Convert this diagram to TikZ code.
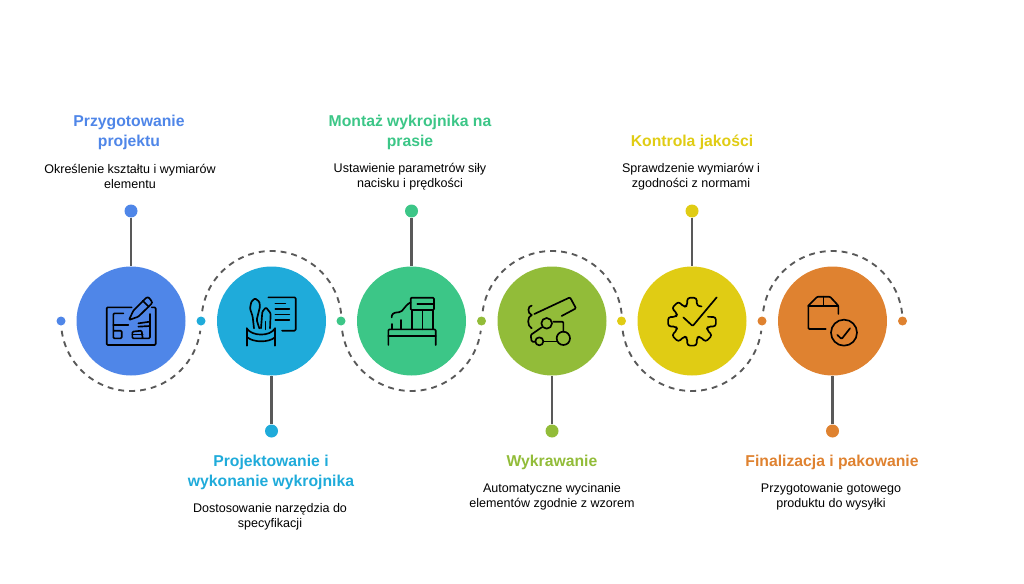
\documentclass[tikz,border=0pt]{standalone}
\usepackage{fontspec}
\setmainfont{Liberation Sans}
\definecolor{stepblue}{HTML}{4F86E8}
\definecolor{stepcyan}{HTML}{1FABDA}
\definecolor{stepgreen}{HTML}{3CC687}
\definecolor{stepolive}{HTML}{92BC39}
\definecolor{stepyellow}{HTML}{E0CC14}
\definecolor{steporange}{HTML}{DF8230}
\definecolor{linegray}{HTML}{595959}
\tikzset{
	disc/.style={circle,fill=#1,inner sep=0pt,minimum size=81.75pt},
	bigdot/.style={circle,fill=#1,inner sep=0pt,minimum size=9.75pt},
	smalldot/.style={circle,fill=#1,inner sep=0pt,minimum size=6.75pt},
	stem/.style={linegray,line width=1.9pt},
	swing/.style={linegray,line width=1.4pt,dash pattern=on 4.4pt off 3.8pt},
	heading/.style={align=center,text=#1,font=\fontsize{11.8pt}{15pt}\selectfont\bfseries},
	desc/.style={align=center,font=\fontsize{9.4pt}{11.6pt}\selectfont},
	icon/.style={black,line width=1.25pt,line cap=round,line join=round,rounded corners=0.8pt},
	zoomed/.style={x=0.25pt,y=-0.25pt}
}
\begin{document}
\begin{tikzpicture}[x=0.75pt,y=0.75pt]
	\useasboundingbox (0,0) rectangle (1024,583);
	%main row
	\node (c1) at (131,262) [disc=stepblue]{};
	\node (c2) at (271.5,262) [disc=stepcyan]{};
	\node (c3) at (411.5,262) [disc=stepgreen]{};
	\node (c4) at (552,262) [disc=stepolive]{};
	\node (c5) at (692,262) [disc=stepyellow]{};
	\node (c6) at (832.5,262) [disc=steporange]{};
	
	%dots on the row
	\node (d0) at (61,262) [smalldot=stepblue]{};
	\node (d1) at (201,262) [smalldot=stepcyan]{};
	\node (d2) at (341,262) [smalldot=stepgreen]{};
	\node (d3) at (481.5,262) [smalldot=stepolive]{};
	\node (d4) at (621.5,262) [smalldot=stepyellow]{};
	\node (d5) at (762,262) [smalldot=steporange]{};
	\node (d6) at (902.5,262) [smalldot=steporange]{};
	
	%dashed swings
	\foreach \c in {c1,c3,c5}{
		\draw[swing] (\c) ++(188:70) arc[start angle=188,end angle=352,radius=70];
	}
	\foreach \c in {c2,c4,c6}{
		\draw[swing] (\c) ++(172:70) arc[start angle=172,end angle=5,radius=70];
	}
	
	%stems
	\node (t1) at (131,372) [bigdot=stepblue]{};
	\node (t2) at (271.5,152) [bigdot=stepcyan]{};
	\node (t3) at (411.5,372) [bigdot=stepgreen]{};
	\node (t4) at (552,152) [bigdot=stepolive]{};
	\node (t5) at (692,372) [bigdot=stepyellow]{};
	\node (t6) at (832.5,152) [bigdot=steporange]{};
	\foreach \i in {1,...,6}{
		\draw[stem] (t\i) -- (c\i);
	}
	
	%texts
	\node (h1) at (129,451) [heading=stepblue]{Przygotowanie\\projektu};
	\node (p1) at (130,406.5) [desc]{Określenie kształtu i wymiarów\\elementu};
	\node (h2) at (271,111) [heading=stepcyan]{Projektowanie i\\wykonanie wykrojnika};
	\node (p2) at (270,66.5) [desc]{Dostosowanie narzędzia do\\specyfikacji};
	\node (h3) at (410,451) [heading=stepgreen]{Montaż wykrojnika na\\prasie};
	\node (p3) at (410,406.5) [desc]{Ustawienie parametrów siły\\nacisku i prędkości};
	\node (h4) at (552,121) [heading=stepolive]{Wykrawanie};
	\node (p4) at (552,86.5) [desc]{Automatyczne wycinanie\\elementów zgodnie z wzorem};
	\node (h5) at (692,441) [heading=stepyellow]{Kontrola jakości};
	\node (p5) at (691,406.5) [desc]{Sprawdzenie wymiarów i\\zgodności z normami};
	\node (h6) at (832,121) [heading=steporange]{Finalizacja i pakowanie};
	\node (p6) at (831,86.5) [desc]{Przygotowanie gotowego\\produktu do wysyłki};
	
	%icon: drawing with pencil
	\begin{scope}[shift={(90,303)},zoomed]
		\draw[icon] (125,82)--(50,82)--(50,195)--(197,195)--(197,82)--(185,82);
		\draw[icon] (117,120)--(130,92)--(170,52)--(176,52)--(186,65)--(186,70)--(145,110)--cycle;
		\draw[icon] (158,62)--(176,80);
		\draw[icon] (100,100)--(70,100)--(70,175)--(95,175)--(95,152)--(70,152);
		\draw[icon] (70,135)--(115,135);
		\draw[icon] (180,102)--(180,175)--(127,175)--(127,155)--(155,152)--(158,175);
		\draw[icon] (145,130)--(180,125);
		\draw[icon] (145,140)--(180,138);
		\draw[icon] (127,163)--(158,163);
	\end{scope}
	
	%icon: tools and sheet
	\begin{scope}[shift={(232,303)},zoomed]
		\draw[icon] (44,145) .. controls (60,170) and (115,170) .. (129,145);
		\draw[icon] (46,172) .. controls (65,188) and (110,188) .. (129,172);
		\draw[icon] (44,145)--(44,197);
		\draw[icon] (129,145)--(129,197);
		\draw[icon] (66,145)--(62,110)--(54,85)--(58,65)--(69,55)--(82,65)--(84,80)--(74,120)--(82,145);
		\draw[icon] (87,145)--(91,95)--(102,82)--(116,100)--(114,145);
		\draw[icon] (100,125)--(100,148);
		\draw[icon] (109,52)--(191,52)--(191,152)--(150,152);
		\draw[icon] (130,70)--(160,70);
		\foreach \y in {87,103,120}{
			\draw[icon] (130,\y)--(172,\y);
		}
	\end{scope}
	
	%icon: press
	\begin{scope}[shift={(372,303)},zoomed]
		\draw[icon] (49,195)--(49,148)--(191,148)--(191,195);
		\draw[icon] (49,167)--(191,167);
		\draw[icon] (116,53)--(186,53)--(186,90)--(116,90)--cycle;
		\draw[icon] (136,72)--(186,72);
		\draw[icon] (119,90)--(119,148);
		\draw[icon] (151,90)--(151,148);
		\draw[icon] (182,90)--(182,148);
		\draw[icon] (116,67) .. controls (95,78) and (95,95) .. (78,97) .. controls (65,98) and (59,102) .. (59,112);
		\draw[icon] (59,132)--(59,148);
		\draw[icon] (87,120)--(87,148);
	\end{scope}
	
	%icon: cutting machine
	\begin{scope}[shift={(512,303)},zoomed]
		\draw[icon] (67,102)--(174,52)--(192,85)--(149,108);
		\draw[icon] (59,77) .. controls (47,77) and (45,100) .. (59,105);
		\draw[icon] (59,105) .. controls (45,110) and (45,138) .. (59,145);
		\draw[icon] (124,125)--(154,125)--(154,155);
		\draw[icon] (154,175) circle[radius=20];
		\draw[icon] (104,130) circle[radius=16];
		\draw[icon] (82,184) circle[radius=12];
		\draw[icon] (89,142)--(56,165)--(59,185)--(70,185);
		\draw[icon] (94,184)--(134,184);
	\end{scope}
	
	%icon: gear with tick
	\begin{scope}[shift={(692,261.3)},x=0.25pt,y=0.25pt]
		\draw[icon,rounded corners=2pt] (58:54) \foreach \a in {90,135,...,360}{
			-- ({\a-17}:50) -- ({\a-11}:73) -- ({\a+11}:73) -- ({\a+17}:50)
		};
		\draw[icon] (-26,13)--(2,-13)--(74,73);
	\end{scope}
	
	%icon: box with tick
	\begin{scope}[shift={(792,303)},zoomed]
		\draw[icon] (49,77)--(49,147)--(101,147);
		\draw[icon] (49,77)--(76,50)--(114,50)--(139,77)--(139,102);
		\draw[icon] (49,77)--(139,77);
		\draw[icon] (94,50)--(94,77);
		\draw[icon] (156,158) circle[radius=39];
		\draw[icon] (136,165)--(149,177)--(174,145);
	\end{scope}
\end{tikzpicture}
\end{document}
